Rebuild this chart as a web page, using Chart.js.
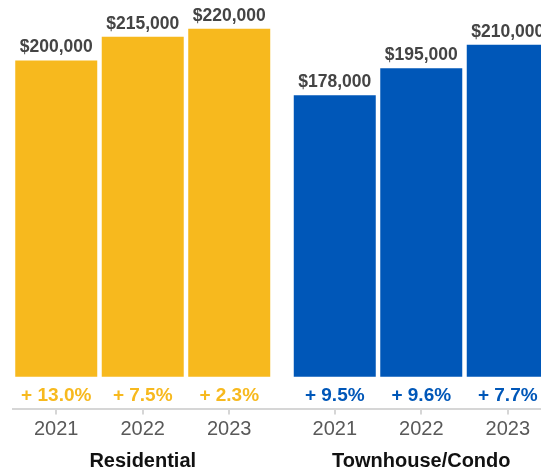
<!DOCTYPE html>
<html>
<head>
<meta charset="utf-8">
<script src="https://cdn.jsdelivr.net/npm/chart.js@4"></script>
<style>
  html, body { margin: 0; padding: 0; background: #fff; overflow: hidden; }
  #wrap { position: absolute; left: 0; top: 0; width: 560px; height: 472px; }
</style>
</head>
<body>
<div id="wrap"><canvas id="c"></canvas></div>
<script>
// ---- data ----
const CATEGORIES = ['2021', '2022', '2023'];
const GROUPS = ['Residential', 'Townhouse/Condo'];
const RESIDENTIAL = [200000, 215000, 220000];
const TOWNHOUSE = [178000, 195000, 210000];
const RESIDENTIAL_CHANGE = [13.0, 7.5, 2.3];
const TOWNHOUSE_CHANGE = [9.5, 9.6, 7.7];

// ---- styling / layout ----
const GOLD = '#F7B91E';
const BLUE = '#0057B8';
const FONT = '"Liberation Sans", Arial, Helvetica, sans-serif';
const GROUP_GAP = 0.22;
const GROUP_STEP = CATEGORIES.length + GROUP_GAP;

const SERIES = [RESIDENTIAL, TOWNHOUSE];
const CHANGES = [RESIDENTIAL_CHANGE, TOWNHOUSE_CHANGE];
const COLORS = [GOLD, BLUE];

const positions = [];
GROUPS.forEach((g, gi) => CATEGORIES.forEach((c, i) => positions.push(gi * GROUP_STEP + i)));

const datasets = GROUPS.map((g, gi) => ({
  label: g,
  data: SERIES[gi].map((v, i) => ({ x: gi * GROUP_STEP + i, y: v })),
  backgroundColor: COLORS[gi],
  borderWidth: 0,
  barPercentage: 0.948,
  categoryPercentage: 1.0,
  grouped: false
}));

const fmtMoney = v => '$' + v.toLocaleString('en-US');
const fmtPct = v => '+ ' + v.toFixed(1) + '%';

const labelPlugin = {
  id: 'labels',
  afterDatasetsDraw(chart) {
    const ctx = chart.ctx;
    const area = chart.chartArea;
    ctx.save();
    ctx.textAlign = 'center';
    ctx.textBaseline = 'alphabetic';
    chart.data.datasets.forEach((ds, di) => {
      const meta = chart.getDatasetMeta(di);
      let sumX = 0;
      meta.data.forEach((el, i) => {
        sumX += el.x;
        ctx.fillStyle = '#444444';
        ctx.font = 'bold 17.5px ' + FONT;
        ctx.fillText(fmtMoney(SERIES[di][i]), el.x, el.y - 8);
        ctx.fillStyle = COLORS[di];
        ctx.font = 'bold 19px ' + FONT;
        ctx.fillText(fmtPct(CHANGES[di][i]), el.x, area.bottom - 7.5);
      });
      const cx = sumX / meta.data.length;
      ctx.fillStyle = '#111111';
      ctx.font = 'bold 20px ' + FONT;
      ctx.fillText(GROUPS[di], cx, 466.5);
    });
    ctx.restore();
  }
};

new Chart(document.getElementById('c'), {
  type: 'bar',
  data: { datasets },
  plugins: [labelPlugin],
  options: {
    responsive: true,
    maintainAspectRatio: false,
    animation: false,
    layout: { padding: { left: 13, right: 9, top: 13, bottom: 27.5 } },
    plugins: { legend: { display: false }, tooltip: { enabled: false } },
    scales: {
      x: {
        type: 'linear',
        min: -0.5,
        max: GROUP_STEP + CATEGORIES.length - 0.5,
        offset: false,
        afterBuildTicks: s => { s.ticks = positions.map(v => ({ value: v })); },
        ticks: {
          autoSkip: false,
          maxRotation: 0,
          padding: 3,
          color: '#595959',
          font: { size: 20, family: FONT },
          callback: (v, i) => CATEGORIES[i % CATEGORIES.length]
        },
        grid: { display: true, drawOnChartArea: false, drawTicks: true, tickLength: 6, color: '#d6d6d6', lineWidth: 2, offset: false },
        border: { display: true, color: '#d6d6d6', width: 2 }
      },
      y: {
        display: false,
        min: -20000,
        max: 230000
      }
    }
  }
});
</script>
</body>
</html>
